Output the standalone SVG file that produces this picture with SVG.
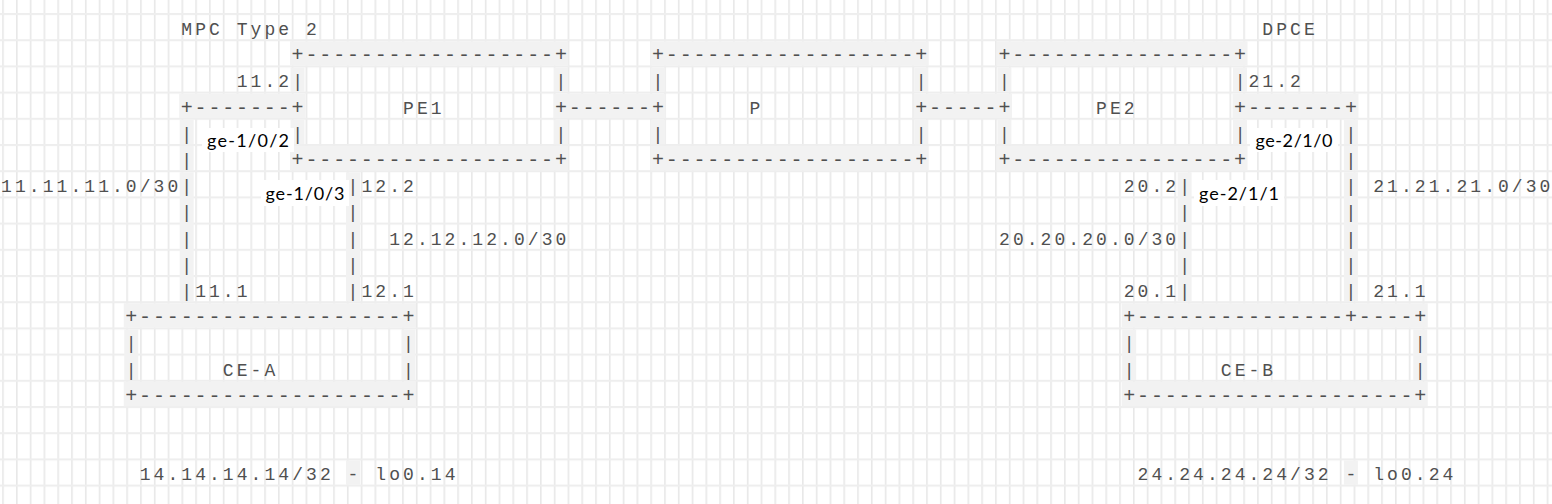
<svg xmlns="http://www.w3.org/2000/svg" width="1552" height="504" viewBox="0 0 1552 504">
<defs>
<pattern id="grid" patternUnits="userSpaceOnUse" x="2.2" y="13" width="13.79" height="26.2">
<rect width="13.79" height="26.2" fill="#ffffff"/>
<rect x="0" y="0" width="1.6" height="26.2" fill="#e8e8e8"/>
<rect x="0" y="0" width="13.79" height="2" fill="#eeeeee"/>
</pattern>
</defs>
<style>
.m{font-family:'Liberation Mono','Courier New',monospace;font-size:18px;letter-spacing:3.06px;fill:#505050}
.h{font-size:20px;letter-spacing:1.86px}
.c{text-anchor:middle;letter-spacing:0}
.b{fill:#f2f2f2}
.w{fill:#ffffff}
.g{font-family:Lato,'Liberation Sans',sans-serif;font-size:18px;fill:#000000}
</style>
<rect width="1552" height="504" fill="url(#grid)"/>

<g id="bands">
<rect class="b" x="290.06" y="41.2" width="278.3" height="24.5"/>
<rect class="b" x="650.42" y="41.2" width="278.3" height="24.5"/>
<rect class="b" x="996.92" y="41.2" width="250.6" height="24.5"/>
<rect class="b" x="290.06" y="146" width="278.3" height="24.5"/>
<rect class="b" x="650.42" y="146" width="278.3" height="24.5"/>
<rect class="b" x="996.92" y="146" width="250.6" height="24.5"/>
<rect class="b" x="179.18" y="93.6" width="125.9" height="24.5"/>
<rect class="b" x="553.4" y="93.6" width="112" height="24.5"/>
<rect class="b" x="913.76" y="93.6" width="98.2" height="24.5"/>
<rect class="b" x="1232.54" y="93.6" width="125.9" height="24.5"/>
<rect class="b" x="123.74" y="303.2" width="292.2" height="24.5"/>
<rect class="b" x="1121.66" y="303.2" width="306.1" height="24.5"/>
<rect class="b" x="123.74" y="381.8" width="292.2" height="24.5"/>
<rect class="b" x="1121.66" y="381.8" width="306.1" height="24.5"/>
<rect class="b" x="290.56" y="67.4" width="14" height="24.5"/>
<rect class="b" x="553.9" y="67.4" width="14" height="24.5"/>
<rect class="b" x="650.92" y="67.4" width="14" height="24.5"/>
<rect class="b" x="914.26" y="67.4" width="14" height="24.5"/>
<rect class="b" x="997.42" y="67.4" width="14" height="24.5"/>
<rect class="b" x="1233.04" y="67.4" width="14" height="24.5"/>
<rect class="b" x="179.68" y="119.8" width="14" height="24.5"/>
<rect class="b" x="290.56" y="119.8" width="14" height="24.5"/>
<rect class="b" x="553.9" y="119.8" width="14" height="24.5"/>
<rect class="b" x="650.92" y="119.8" width="14" height="24.5"/>
<rect class="b" x="914.26" y="119.8" width="14" height="24.5"/>
<rect class="b" x="997.42" y="119.8" width="14" height="24.5"/>
<rect class="b" x="1233.04" y="119.8" width="14" height="24.5"/>
<rect class="b" x="1343.92" y="119.8" width="14" height="24.5"/>
<rect class="b" x="179.68" y="146" width="14" height="24.5"/>
<rect class="b" x="1343.92" y="146" width="14" height="24.5"/>
<rect class="b" x="179.68" y="172.2" width="14" height="129"/>
<rect class="b" x="346" y="172.2" width="14" height="129"/>
<rect class="b" x="1177.6" y="172.2" width="14" height="129"/>
<rect class="b" x="1343.92" y="172.2" width="14" height="129"/>
<rect class="b" x="124.24" y="329.4" width="14" height="50.7"/>
<rect class="b" x="401.44" y="329.4" width="14" height="50.7"/>
<rect class="b" x="1122.16" y="329.4" width="14" height="50.7"/>
<rect class="b" x="1413.22" y="329.4" width="14" height="50.7"/>
<rect class="b" x="346" y="460.4" width="14" height="24.5"/>
<rect class="b" x="1343.92" y="460.4" width="14" height="24.5"/>
</g>

<g id="card-labels">
<text class="m" x="181.28" y="35">MPC Type 2</text>
<text class="m" x="1262.36" y="35">DPCE</text>
</g>

<g id="PE1">
<text class="m h" x="291.56" y="61.2">+------------------+</text>
<text class="m c" x="297.56" y="87.4">|</text>
<text class="m c" x="560.9" y="87.4">|</text>
<text class="m" x="403.04" y="113.6">PE1</text>
<text class="m c" x="297.56" y="139.8">|</text>
<text class="m c" x="560.9" y="139.8">|</text>
<text class="m h" x="291.56" y="166">+------------------+</text>
</g>

<g id="P">
<text class="m h" x="651.92" y="61.2">+------------------+</text>
<text class="m c" x="657.92" y="87.4">|</text>
<text class="m c" x="921.26" y="87.4">|</text>
<text class="m" x="749.54" y="113.6">P</text>
<text class="m c" x="657.92" y="139.8">|</text>
<text class="m c" x="921.26" y="139.8">|</text>
<text class="m h" x="651.92" y="166">+------------------+</text>
</g>

<g id="PE2">
<text class="m h" x="998.42" y="61.2">+----------------+</text>
<text class="m c" x="1004.42" y="87.4">|</text>
<text class="m c" x="1240.04" y="87.4">|</text>
<text class="m" x="1096.04" y="113.6">PE2</text>
<text class="m c" x="1004.42" y="139.8">|</text>
<text class="m c" x="1240.04" y="139.8">|</text>
<text class="m h" x="998.42" y="166">+----------------+</text>
</g>

<g id="CE-A">
<text class="m h" x="125.24" y="323.2">+-------------------+</text>
<text class="m c" x="131.24" y="349.4">|</text>
<text class="m c" x="408.44" y="349.4">|</text>
<text class="m c" x="131.24" y="375.6">|</text>
<text class="m" x="222.86" y="375.6">CE-A</text>
<text class="m c" x="408.44" y="375.6">|</text>
<text class="m h" x="125.24" y="401.8">+-------------------+</text>
</g>

<g id="CE-B">
<text class="m h" x="1123.16" y="323.2">+---------------+----+</text>
<text class="m c" x="1129.16" y="349.4">|</text>
<text class="m c" x="1420.22" y="349.4">|</text>
<text class="m c" x="1129.16" y="375.6">|</text>
<text class="m" x="1220.78" y="375.6">CE-B</text>
<text class="m c" x="1420.22" y="375.6">|</text>
<text class="m h" x="1123.16" y="401.8">+--------------------+</text>
</g>

<g id="connectors">
<text class="m h" x="180.68" y="113.6">+-------+</text>
<text class="m c" x="186.68" y="139.8">|</text>
<text class="m c" x="186.68" y="166">|</text>
<text class="m c" x="186.68" y="192.2">|</text>
<text class="m c" x="186.68" y="218.4">|</text>
<text class="m c" x="186.68" y="244.6">|</text>
<text class="m c" x="186.68" y="270.8">|</text>
<text class="m c" x="186.68" y="297">|</text>
<text class="m c" x="353" y="192.2">|</text>
<text class="m c" x="353" y="218.4">|</text>
<text class="m c" x="353" y="244.6">|</text>
<text class="m c" x="353" y="270.8">|</text>
<text class="m c" x="353" y="297">|</text>
<text class="m h" x="554.9" y="113.6">+------+</text>
<text class="m h" x="915.26" y="113.6">+-----+</text>
<text class="m h" x="1234.04" y="113.6">+-------+</text>
<text class="m c" x="1350.92" y="139.8">|</text>
<text class="m c" x="1350.92" y="166">|</text>
<text class="m c" x="1350.92" y="192.2">|</text>
<text class="m c" x="1350.92" y="218.4">|</text>
<text class="m c" x="1350.92" y="244.6">|</text>
<text class="m c" x="1350.92" y="270.8">|</text>
<text class="m c" x="1350.92" y="297">|</text>
<text class="m c" x="1184.6" y="192.2">|</text>
<text class="m c" x="1184.6" y="218.4">|</text>
<text class="m c" x="1184.6" y="244.6">|</text>
<text class="m c" x="1184.6" y="270.8">|</text>
<text class="m c" x="1184.6" y="297">|</text>
</g>

<g id="addresses">
<text class="m" x="236.72" y="87.4">11.2</text>
<text class="m" x="1248.5" y="87.4">21.2</text>
<text class="m" x="1.1" y="192.2">11.11.11.0/30</text>
<text class="m" x="361.46" y="192.2">12.2</text>
<text class="m" x="1123.76" y="192.2">20.2</text>
<text class="m" x="1373.24" y="192.2">21.21.21.0/30</text>
<text class="m" x="389.18" y="244.6">12.12.12.0/30</text>
<text class="m" x="999.02" y="244.6">20.20.20.0/30</text>
<text class="m" x="195.14" y="297">11.1</text>
<text class="m" x="361.46" y="297">12.1</text>
<text class="m" x="1123.76" y="297">20.1</text>
<text class="m" x="1373.24" y="297">21.1</text>
<text class="m" x="139.7" y="480.4">14.14.14.14/32 - lo0.14</text>
<text class="m" x="1137.62" y="480.4">24.24.24.24/32 - lo0.24</text>
</g>

<g id="interfaces">
<rect class="w" x="202" y="128" width="92" height="24"/>
<text class="g" x="207" y="146.5" textLength="82" lengthAdjust="spacing">ge-1/0/2</text>
<rect class="w" x="261" y="180" width="88" height="26"/>
<text class="g" x="265.5" y="199.5" textLength="79" lengthAdjust="spacing">ge-1/0/3</text>
<rect class="w" x="1250" y="128" width="88" height="24"/>
<text class="g" x="1255.5" y="146.5" textLength="77" lengthAdjust="spacing">ge-2/1/0</text>
<rect class="w" x="1194" y="180" width="90" height="26"/>
<text class="g" x="1199" y="200" textLength="80" lengthAdjust="spacing">ge-2/1/1</text>
</g>
</svg>
